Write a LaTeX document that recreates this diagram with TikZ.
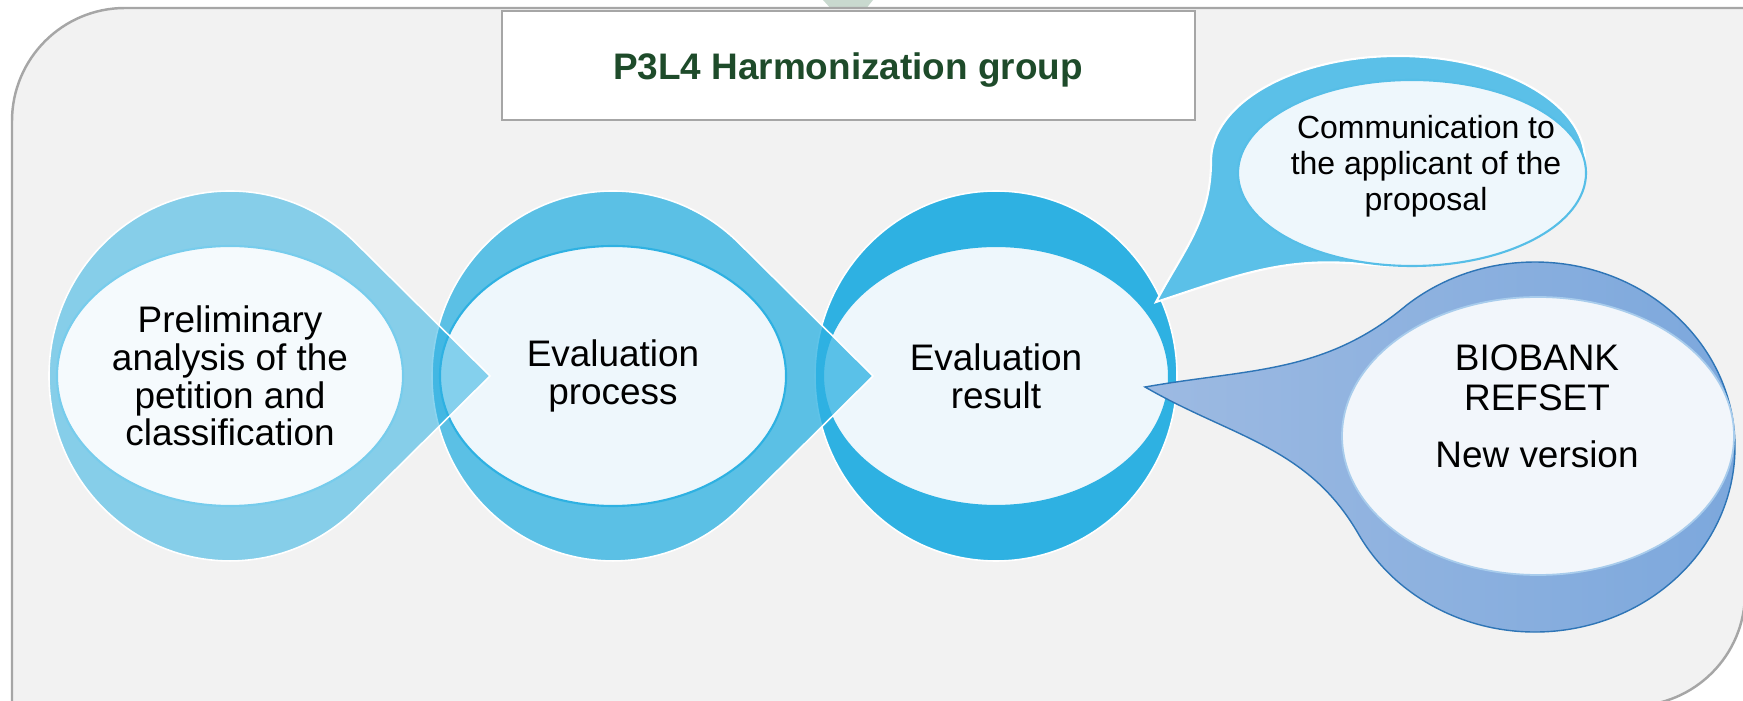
\documentclass[tikz,border=0pt]{standalone}
\usepackage{fontspec}
\setmainfont{Liberation Sans}
\usetikzlibrary{shapes.geometric}

\definecolor{panelgray}{HTML}{F2F2F2}
\definecolor{framegray}{HTML}{A6A6A6}
\definecolor{titlegreen}{HTML}{1E4B2A}
\definecolor{tipgreen}{HTML}{C9D9CF}
\definecolor{stageblue}{HTML}{2EB1E2}
\definecolor{stagelight}{HTML}{EEF7FC}
\definecolor{calloutblue}{HTML}{5BC0E8}
\definecolor{refsetleft}{HTML}{9DBAE2}
\definecolor{refsetright}{HTML}{7BA7DC}
\definecolor{refsetedge}{HTML}{2E75B6}
\definecolor{refsetinner}{HTML}{A8CCEC}
\definecolor{refsetlight}{HTML}{F2F6FB}

\tikzset{
  stageouter/.style={fill=stageblue, draw=white, line width=0.45pt},
  stageinner/.style={fill=stagelight, draw=stageblue, line width=0.6pt},
  stagetext/.style={align=center, inner sep=0pt, font=\fontsize{10.5}{10.7}\selectfont},
  commtext/.style={align=center, inner sep=0pt, font=\fontsize{9.1}{10.3}\selectfont},
}

\begin{document}
\begin{tikzpicture}[x=0.01cm, y=0.01cm]
  \useasboundingbox (0,0) rectangle (1743,700);
  \clip (0,0) rectangle (1743,700);

  \fill[tipgreen] (823,700) -- (873,700) -- (865,690) -- (832,690) -- cycle;
  \path[fill=panelgray, draw=framegray, line width=0.7pt]
    (12,-6) -- (12,579) arc[start angle=180, end angle=90, radius=113]
    -- (1745,692) -- (1745,107) arc[start angle=0, end angle=-90, radius=113] -- cycle;
  \path[fill=white, draw=framegray, line width=0.55pt] (502,580) rectangle (1195,689);
  \node[font=\bfseries\fontsize{10.5}{12}\selectfont, text=titlegreen] (title) at (848,630) {P3L4 Harmonization group};

  % stages, right to left so each arrow lies over the next one
  \path[stageouter] (996,324) ellipse[x radius=181, y radius=185];
  \path[stageinner] (996,324) ellipse[x radius=173, y radius=130];

  \path[stageouter, fill opacity=0.77] (739.6,456.2) arc[start angle=45.6, end angle=314.4, x radius=181, y radius=185]
    -- (873,324) -- cycle;
  \path[stageinner] (613,324) ellipse[x radius=173, y radius=130];

  \path[stageouter, fill opacity=0.55] (356.6,456.2) arc[start angle=45.6, end angle=314.4, x radius=181, y radius=185]
    -- (490,324) -- cycle;
  \path[stageinner, fill=stagelight!60!white, draw=stageblue!65] (230,324) ellipse[x radius=173, y radius=130];

  % callouts
  \path[fill=calloutblue, draw=white, line width=0.6pt] (1211,539)
    arc[start angle=180, end angle=-100, x radius=187, y radius=105]
    to[out=174, in=18] (1156,398) to[out=62, in=-90] (1211,539) -- cycle;
  \path[fill=stagelight, draw=calloutblue!90!stageblue, line width=0.6pt] (1412,527) ellipse[x radius=174, y radius=93];

  \path[left color=refsetleft, right color=refsetright, draw=refsetedge, line width=0.4pt] (1145,313)
    to[out=10, in=220] (1406.4,394.7)
    arc[start angle=130, end angle=-152, x radius=200, y radius=185]
    to[out=120, in=-30] (1145,313) -- cycle;
  \path[fill=refsetlight, draw=refsetinner, line width=0.5pt]
    (1538,264) ellipse[x radius=196, y radius=139];

  \node[stagetext] (prelim) at (230,324) {Preliminary\\analysis of the\\petition and\\classification};
  \node[stagetext] (evalproc) at (613,324) {Evaluation\\process};
  \node[stagetext] (evalres) at (996,324) {Evaluation\\result};
  \node[commtext] (comm) at (1426,534) {Communication to\\the applicant of the\\proposal};
  \node[stagetext, font=\fontsize{10.5}{11.4}\selectfont] (refset) at (1537,294) {BIOBANK\\REFSET\\[4.8pt]New version};
\end{tikzpicture}
\end{document}
